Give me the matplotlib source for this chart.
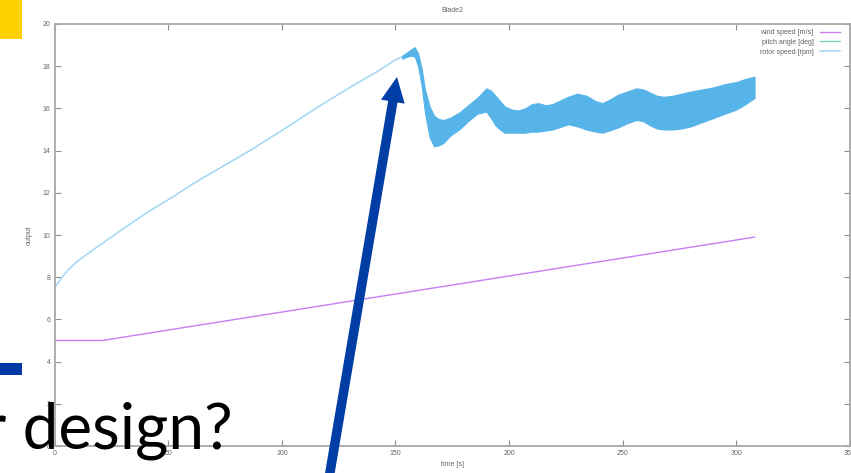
import matplotlib
matplotlib.use("Agg")
import matplotlib.pyplot as plt
from matplotlib.patches import Rectangle, FancyArrow

# ---------------- data ----------------
wind_t = [0, 21, 308]
wind_v = [5.0, 5.0, 9.9]

pitch_t = [0, 308]
pitch_v = [0.0, 0.0]

rotor_t = [0, 3, 6, 10, 17, 25, 33, 42, 52, 62, 74, 86, 100, 115, 130, 142, 150, 153]
rotor_v = [7.5, 7.95, 8.35, 8.75, 9.3, 9.9, 10.5, 11.15, 11.8, 12.5, 13.25, 14.0,
           14.95, 16.0, 17.0, 17.75, 18.3, 18.45]

band_t = [153, 155, 157, 158.5, 160, 161.5, 163, 165, 167, 169, 171, 174, 178, 182,
          186, 190, 192, 194, 196, 198, 201, 204, 207, 210, 213, 216, 219, 222, 226,
          230, 234, 238, 241, 244, 248, 252, 256, 259, 262, 265, 268, 272, 276, 280,
          285, 290, 295, 300, 304, 308]
band_hi = [18.5, 18.65, 18.8, 18.9, 18.6, 17.9, 16.9, 16.1, 15.65, 15.5, 15.45, 15.55,
           15.8, 16.15, 16.5, 16.95, 16.85, 16.6, 16.35, 16.1, 15.95, 15.9, 16.0, 16.2,
           16.25, 16.15, 16.2, 16.35, 16.55, 16.7, 16.6, 16.35, 16.25, 16.4, 16.65,
           16.8, 16.95, 16.9, 16.75, 16.6, 16.55, 16.6, 16.7, 16.8, 16.9, 17.0, 17.15,
           17.25, 17.4, 17.5]
band_lo = [18.35, 18.45, 18.5, 18.45, 18.0, 17.1, 15.8, 14.65, 14.2, 14.25, 14.35, 14.7,
           15.0, 15.4, 15.75, 15.85, 15.55, 15.2, 15.0, 14.85, 14.85, 14.85, 14.85, 14.9,
           14.9, 14.95, 15.0, 15.1, 15.25, 15.15, 15.0, 14.9, 14.85, 14.95, 15.1, 15.3,
           15.45, 15.4, 15.2, 15.05, 15.0, 15.0, 15.05, 15.15, 15.35, 15.55, 15.75,
           15.95, 16.2, 16.5]

x_ticks = [0, 50, 100, 150, 200, 250, 300, 350]
y_ticks = [0, 2, 4, 6, 8, 10, 12, 14, 16, 18, 20]

labels = ["wind speed [m/s]", "pitch angle [deg]", "rotor speed [rpm]"]
title = "Blade2"
slide_text = "r design?"

# ---------------- figure ----------------
W, H = 851, 473
fig = plt.figure(figsize=(W / 100, H / 100), dpi=100)
fig.patch.set_facecolor("white")

ax = fig.add_axes([54.5 / W, 27 / H, (850 - 54.5) / W, (446 - 24) / H])
ax.set_xlim(0, 350)
ax.set_ylim(0, 20)

c_wind = "#c97ef2"
c_pitch = "#6fd1ad"
c_rotor_line = "#9fd6f3"
c_band = "#56B4E9"

ax.plot(pitch_t, pitch_v, color=c_pitch, lw=0.9, zorder=1, label=labels[1])
ax.plot(wind_t, wind_v, color=c_wind, lw=1.0, zorder=3, label=labels[0])
ax.plot(rotor_t, rotor_v, color=c_rotor_line, lw=1.1, zorder=3, label=labels[2])
ax.fill_between(band_t, band_lo, band_hi, color=c_band, lw=0.8, edgecolor=c_band, zorder=3)

# gnuplot-like frame
for s in ax.spines.values():
    s.set_color("#a8a8a8")
    s.set_linewidth(1.3)
    s.set_zorder(4)
ax.set_xticks(x_ticks)
ax.set_yticks(y_ticks)
ax.tick_params(direction="in", length=4, width=0.8, color="#909090",
               labelsize=5, labelcolor="#666666", top=True, right=True, pad=3)
ax.set_title(title, fontsize=5, color="#666666", pad=9, family="Liberation Sans")
ax.set_xlabel("time [s]", fontsize=5, color="#666666", labelpad=3, family="Liberation Sans")
ax.set_ylabel("output", fontsize=5, color="#666666", labelpad=7, family="Liberation Sans")
for lab in ax.get_xticklabels() + ax.get_yticklabels():
    lab.set_family("Liberation Sans")

h = ax.get_legend_handles_labels()
order = [1, 0, 2]
handles = [h[0][i] for i in order]
labs = [h[1][i] for i in order]
leg = ax.legend(handles, labs, loc="upper right", bbox_to_anchor=(840 / W, 1 - 29 / H),
                bbox_transform=fig.transFigure, frameon=False, markerfirst=False,
                handlelength=2.9, handletextpad=0.9, labelspacing=0.4,
                borderpad=0, borderaxespad=0, prop={"family": "Liberation Sans", "size": 5})
for t in leg.get_texts():
    t.set_color("#606060")

# ---------------- slide overlay elements ----------------
fig.add_artist(Rectangle((0, 1 - 39 / H), 22 / W, 39 / H, transform=fig.transFigure,
                         facecolor="#FFD100", edgecolor="none", zorder=5))
fig.add_artist(Rectangle((0, 1 - 375 / H), 22 / W, 12 / H, transform=fig.transFigure,
                         facecolor="#0039A6", edgecolor="none", zorder=5))

fig.text(233 / W, 1 - 448 / H, slide_text, ha="right", va="baseline",
         fontsize=46, color="black", family="Lato", zorder=6)

# arrow (in pixel-inch coordinates)
tail = (327 / 100, (H - 490) / 100)
tip = (397 / 100, (H - 77) / 100)
fig.add_artist(FancyArrow(tail[0], tail[1], tip[0] - tail[0], tip[1] - tail[1],
                          width=0.095, head_width=0.24, head_length=0.25,
                          length_includes_head=True, transform=fig.dpi_scale_trans,
                          facecolor="#003DA5", edgecolor="none", zorder=7))

fig.savefig("out.png", dpi=100, facecolor="white")
